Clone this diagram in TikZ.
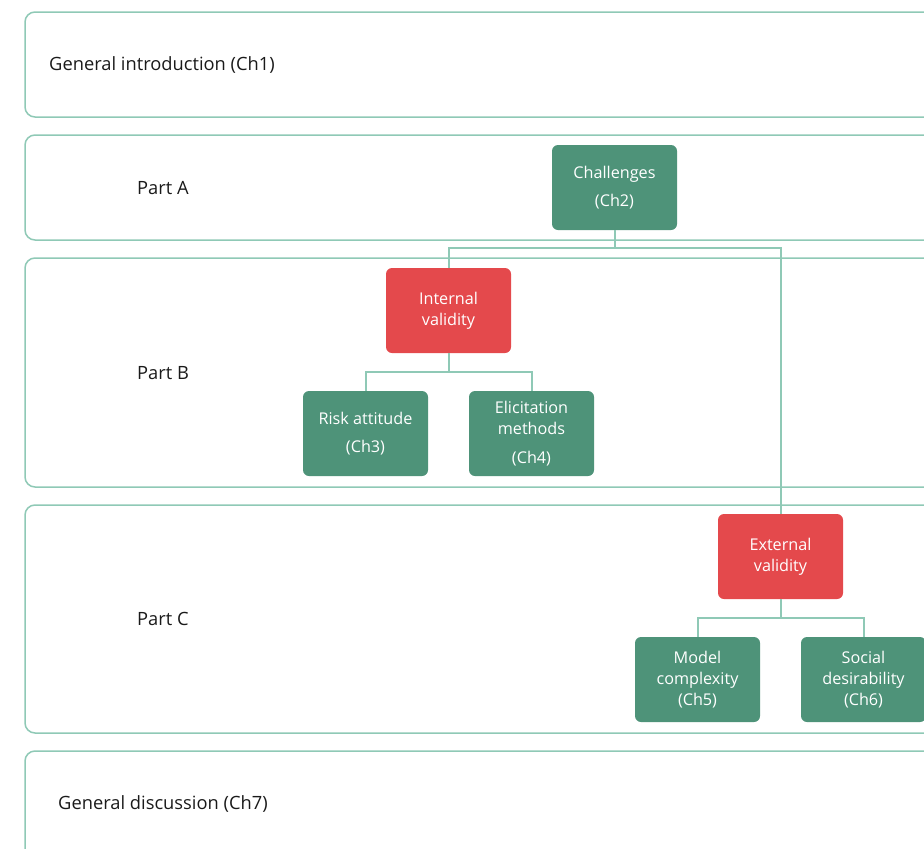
\documentclass[tikz,border=0pt]{standalone}
\usepackage{fontspec}
\setmainfont{Open Sans}
\definecolor{bandline}{HTML}{8FC9B6}
\definecolor{chapgreen}{HTML}{4E9379}
\definecolor{themered}{HTML}{E4494C}
\definecolor{labeltext}{HTML}{1A1A1A}
\tikzset{
  band/.style={draw=bandline,line width=1.5pt,rounded corners=10pt},
  boxbase/.style={rounded corners=6pt,minimum width=125pt,minimum height=85pt,
    text=white,align=center,inner sep=0pt,font=\fontsize{16.2}{21}\selectfont},
  chap/.style={boxbase,fill=chapgreen},
  theme/.style={boxbase,fill=themered},
  link/.style={draw=bandline,line width=2pt},
  partlabel/.style={anchor=west,text=labeltext,inner sep=0pt,font=\fontsize{18.3}{22}\selectfont}
}
\begin{document}
\begin{tikzpicture}[x=1pt,y=-1pt]
\useasboundingbox (0,0) rectangle (924,849);
\clip (0,0) rectangle (924,849);
% bands
\draw [band](25,12) rectangle (960,117);
\draw [band](25,135) rectangle (960,240);
\draw [band](25,258) rectangle (960,487);
\draw [band](25,505) rectangle (960,733);
\draw [band](25,751) rectangle (960,900);
\node [partlabel] (intro) at (49,65) {General introduction (Ch1)};
\node [partlabel] (parta) at (137,188) {Part A};
\node [partlabel] (partb) at (137,373) {Part B};
\node [partlabel] (partc) at (137,619) {Part C};
\node [partlabel] (disc) at (58,804) {General discussion (Ch7)};
% boxes
\node [chap] (chal) at (614.5,187.5) {Challenges\\[7pt](Ch2)};
\node [theme] (intval) at (448.5,310.5) {Internal\\validity};
\node [chap] (risk) at (365.5,433.5) {Risk attitude\\[7pt](Ch3)};
\node [chap] (elic) at (531.5,433.5) {Elicitation\\methods\\[8pt](Ch4)};
\node [theme] (extval) at (780.5,556.5) {External\\validity};
\node [chap] (model) at (697.5,679.5) {Model\\complexity\\(Ch5)};
\node [chap] (social) at (863.5,679.5) {Social\\desirability\\(Ch6)};
% connectors
\coordinate (forka) at (614.5,248);
\coordinate (forkb) at (448.5,372);
\coordinate (forkc) at (780.5,618);
\draw [link](chal.south) -- (forka);
\draw [link](intval.north) |- (forka) -| (extval.north);
\draw [link](intval.south) -- (forkb);
\draw [link](risk.north) |- (forkb) -| (elic.north);
\draw [link](extval.south) -- (forkc);
\draw [link](model.north) |- (forkc) -| (social.north);
\end{tikzpicture}
\end{document}
